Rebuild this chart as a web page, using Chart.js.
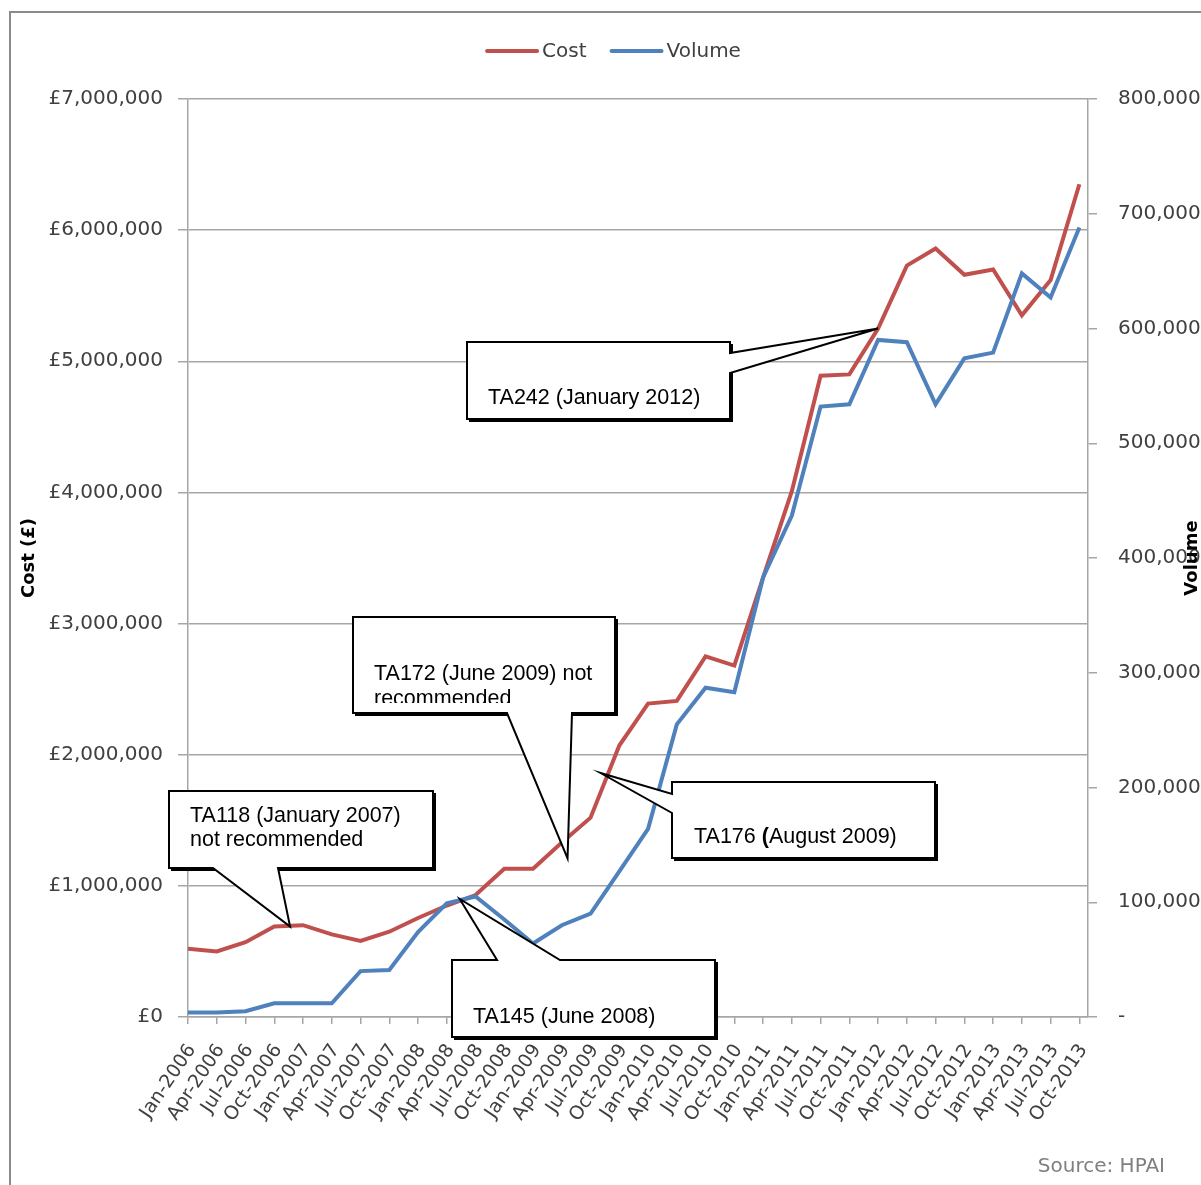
<!DOCTYPE html>
<html>
<head>
<meta charset="utf-8">
<title>Cost and volume</title>
<script src="https://cdn.jsdelivr.net/npm/chart.js@4.4.1/dist/chart.umd.min.js"></script>
<style>
  html, body { margin: 0; padding: 0; background: #fff; }
  canvas { display: block; }
</style>
</head>
<body>
<canvas id="chart" width="1201" height="1185"></canvas>
<script>
/* --- data --- */
const QUARTERS = [
  'Jan-2006', 'Apr-2006', 'Jul-2006', 'Oct-2006',
  'Jan-2007', 'Apr-2007', 'Jul-2007', 'Oct-2007',
  'Jan-2008', 'Apr-2008', 'Jul-2008', 'Oct-2008',
  'Jan-2009', 'Apr-2009', 'Jul-2009', 'Oct-2009',
  'Jan-2010', 'Apr-2010', 'Jul-2010', 'Oct-2010',
  'Jan-2011', 'Apr-2011', 'Jul-2011', 'Oct-2011',
  'Jan-2012', 'Apr-2012', 'Jul-2012', 'Oct-2012',
  'Jan-2013', 'Apr-2013', 'Jul-2013', 'Oct-2013'
];

const COST = [
  520000, 500000, 570000, 690000,
  700000, 630000, 580000, 650000,
  755000, 850000, 930000, 1130000,
  1130000, 1330000, 1520000, 2070000,
  2390000, 2410000, 2750000, 2680000,
  3350000, 4010000, 4890000, 4900000,
  5250000, 5730000, 5860000, 5660000,
  5700000, 5350000, 5620000, 6350000
];

const VOLUME = [
  4000, 4000, 5000, 12000,
  12000, 12000, 40000, 41000,
  74000, 99000, 105000, 85000,
  64000, 80000, 90000, 127000,
  164000, 255000, 287000, 283000,
  383000, 437000, 532000, 534000,
  590000, 588000, 534000, 574000,
  579000, 648000, 627000, 688000
];

const COST_TICKS = { min: 0, max: 7000000, step: 1000000 };
const VOLUME_TICKS = { min: 0, max: 800000, step: 100000 };

/* --- styles --- */
const COLORS = {
  cost: '#C0504D',
  volume: '#4F81BD',
  grid: '#a6a6a6',
  text: '#404040',
  frame: '#8a8a8a',
  source: '#7f7f7f'
};
const AXIS_FONT = 'DejaVu Sans';
const NOTE_FONT = 'Liberation Sans';

// callout boxes (pixels), tip anchored to the data (x index, cost value)
const CALLOUTS = [
  { box: [169, 791, 433, 868], side: 'bottom', gap: [213, 278], tip: { x: 3.55, y: 690000 },
    textX: 190, lines: [[['TA118 (January 2007)']], [['not recommended']]], lineY: [816, 840] },
  { box: [452, 960, 715, 1037], side: 'top', gap: [497, 560], tip: { x: 9.45, y: 900000 },
    textX: 473, lines: [[['TA145 (June 2008)']]], lineY: [1017] },
  { box: [353, 617, 615, 713], side: 'bottom', gap: [507, 572], tip: { x: 13.2, y: 1210000 },
    textX: 374, lines: [[['TA172 (June 2009) not']], [['recommended']]], lineY: [674, 699], clipBottom: 703 },
  { box: [672, 782, 935, 858], side: 'left', gap: [794, 813], tip: { x: 14.35, y: 1860000 },
    textX: 694, lines: [[['TA176 '], ['(', true], ['August 2009)']]], lineY: [837] },
  { box: [467, 342, 730, 419], side: 'right', gap: [353, 373], tip: { x: 24, y: 5250000 },
    textX: 488, lines: [[['TA242 (January 2012)']]], lineY: [398] }
];

function calloutPath(ctx, c, tx, ty) {
  const [l, t, r, b] = c.box;
  ctx.beginPath();
  ctx.moveTo(l, t);
  if (c.side === 'top') { ctx.lineTo(c.gap[0], t); ctx.lineTo(tx, ty); ctx.lineTo(c.gap[1], t); }
  ctx.lineTo(r, t);
  if (c.side === 'right') { ctx.lineTo(r, c.gap[0]); ctx.lineTo(tx, ty); ctx.lineTo(r, c.gap[1]); }
  ctx.lineTo(r, b);
  if (c.side === 'bottom') { ctx.lineTo(c.gap[1], b); ctx.lineTo(tx, ty); ctx.lineTo(c.gap[0], b); }
  ctx.lineTo(l, b);
  if (c.side === 'left') { ctx.lineTo(l, c.gap[1]); ctx.lineTo(tx, ty); ctx.lineTo(l, c.gap[0]); }
  ctx.closePath();
}

function drawCallouts(chart) {
  const { ctx } = chart;
  const xs = chart.scales.x, ys = chart.scales.y;
  CALLOUTS.forEach(c => {
    const tx = xs.getPixelForValue(c.tip.x);
    const ty = ys.getPixelForValue(c.tip.y);
    const [l, t, r, b] = c.box;
    ctx.save();
    // box shadow
    ctx.fillStyle = '#000';
    ctx.fillRect(l + 2, t + 2, r - l + 1, b - t + 1);

    calloutPath(ctx, c, tx, ty);
    ctx.fillStyle = '#fff';
    ctx.fill();
    ctx.lineWidth = 2;
    ctx.strokeStyle = '#000';
    ctx.lineJoin = 'miter';
    ctx.stroke();

    ctx.beginPath();
    ctx.rect(l + 2, t + 2, r - l - 4, (c.clipBottom || b - 2) - t - 2);
    ctx.clip();
    ctx.fillStyle = '#000';
    ctx.textBaseline = 'middle';
    ctx.textAlign = 'left';
    c.lines.forEach((segs, i) => {
      let x = c.textX;
      segs.forEach(([txt, bold]) => {
        ctx.font = (bold ? 'bold ' : '') + '21.5px "' + NOTE_FONT + '"';
        ctx.fillText(txt, x, c.lineY[i]);
        x += ctx.measureText(txt).width;
      });
    });
    ctx.restore();
  });
}

function drawLegend(chart) {
  const { ctx } = chart;
  const items = [
    { label: 'Cost', color: COLORS.cost },
    { label: 'Volume', color: COLORS.volume }
  ];
  const lineW = 54, lineGap = 3, itemGap = 23, cx = 613, cy = 51;
  ctx.save();
  ctx.font = '20px "' + AXIS_FONT + '"';
  const widths = items.map(it => lineW + lineGap + ctx.measureText(it.label).width);
  let x = cx - (widths.reduce((a, w) => a + w, 0) + itemGap) / 2;
  ctx.textBaseline = 'middle';
  items.forEach((it, i) => {
    ctx.strokeStyle = it.color;
    ctx.lineWidth = 4;
    ctx.lineCap = 'round';
    ctx.beginPath();
    ctx.moveTo(x + 2, cy);
    ctx.lineTo(x + lineW - 2, cy);
    ctx.stroke();
    ctx.fillStyle = COLORS.text;
    ctx.fillText(it.label, x + lineW + lineGap, cy + 1);
    x += widths[i] + itemGap;
  });
  ctx.restore();
}

const overlay = {
  id: 'overlay',
  beforeDraw(chart) {
    const { ctx, width, height } = chart;
    ctx.save();
    ctx.fillStyle = '#fff';
    ctx.fillRect(0, 0, width, height);
    ctx.strokeStyle = COLORS.frame;
    ctx.lineWidth = 2;
    ctx.beginPath();
    ctx.moveTo(10, height);
    ctx.lineTo(10, 12);
    ctx.lineTo(width, 12);
    ctx.stroke();
    ctx.restore();
  },
  afterDraw(chart) {
    const { ctx, chartArea } = chart;
    drawLegend(chart);

    // secondary axis title, reading bottom to top
    ctx.save();
    ctx.translate(1192, (chartArea.top + chartArea.bottom) / 2);
    ctx.rotate(-Math.PI / 2);
    ctx.font = 'bold 18px "' + AXIS_FONT + '"';
    ctx.fillStyle = '#000';
    ctx.textAlign = 'center';
    ctx.textBaseline = 'middle';
    ctx.fillText('Volume', 0, 0);
    ctx.restore();

    drawCallouts(chart);

    ctx.save();
    ctx.font = '20px "' + AXIS_FONT + '"';
    ctx.fillStyle = COLORS.source;
    ctx.textAlign = 'right';
    ctx.textBaseline = 'middle';
    ctx.fillText('Source: HPAI', 1165, 1167);
    ctx.restore();
  }
};

const tickFont = { family: AXIS_FONT, size: 20 };

new Chart(document.getElementById('chart'), {
  type: 'line',
  data: {
    datasets: [
      {
        label: 'Cost',
        data: COST.map((v, i) => ({ x: i, y: v })),
        yAxisID: 'y',
        borderColor: COLORS.cost,
        backgroundColor: COLORS.cost,
        borderWidth: 4,
        pointRadius: 0,
        tension: 0,
        order: 1
      },
      {
        label: 'Volume',
        data: VOLUME.map((v, i) => ({ x: i, y: v })),
        yAxisID: 'y1',
        borderColor: COLORS.volume,
        backgroundColor: COLORS.volume,
        borderWidth: 4,
        pointRadius: 0,
        tension: 0,
        order: 0
      }
    ]
  },
  options: {
    responsive: false,
    animation: false,
    events: [],
    layout: { padding: { top: 99, left: 0, right: 0, bottom: 0 } },
    plugins: {
      legend: { display: false },
      tooltip: { enabled: false }
    },
    scales: {
      x: {
        type: 'linear',
        position: 'bottom',
        min: 0,
        max: QUARTERS.length - 0.7,
        afterFit: s => { s.height = 168; },
        grid: { drawOnChartArea: false, tickLength: 7, color: COLORS.grid, lineWidth: 1.5 },
        border: { color: COLORS.grid, width: 1.5 },
        ticks: {
          stepSize: 1,
          autoSkip: false,
          includeBounds: false,
          maxTicksLimit: 40,
          minRotation: 56,
          maxRotation: 56,
          padding: 16,
          labelOffset: 4,
          color: COLORS.text,
          font: { family: AXIS_FONT, size: 19 },
          callback: v => QUARTERS[v] || ''
        }
      },
      y: {
        position: 'left',
        min: COST_TICKS.min,
        max: COST_TICKS.max,
        afterFit: s => { s.width = 188; },
        grid: { color: COLORS.grid, lineWidth: 1.5, tickLength: 10 },
        border: { color: COLORS.grid, width: 1.5 },
        ticks: {
          stepSize: COST_TICKS.step,
          padding: 15,
          color: COLORS.text,
          font: tickFont,
          callback: v => '£' + v.toLocaleString('en-GB')
        },
        title: {
          display: true,
          text: 'Cost (£)',
          color: '#000',
          font: { family: AXIS_FONT, size: 18, weight: 'bold' },
          padding: { top: 19, bottom: 0 }
        }
      },
      y1: {
        position: 'right',
        min: VOLUME_TICKS.min,
        max: VOLUME_TICKS.max,
        afterFit: s => { s.width = 113; },
        grid: { drawOnChartArea: false, color: COLORS.grid, lineWidth: 1.5, tickLength: 9 },
        border: { color: COLORS.grid, width: 1.5 },
        ticks: {
          stepSize: VOLUME_TICKS.step,
          padding: 21,
          color: COLORS.text,
          font: tickFont,
          callback: v => v === 0 ? '-' : v.toLocaleString('en-GB')
        }
      }
    }
  },
  plugins: [overlay]
});
</script>
</body>
</html>
